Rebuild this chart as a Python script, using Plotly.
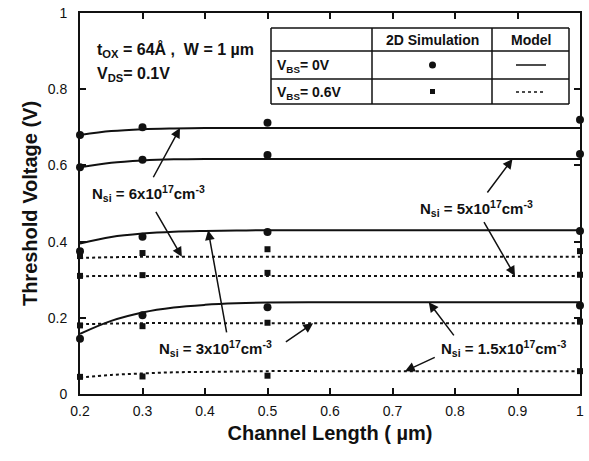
import plotly.graph_objects as go

# ---------------- data ----------------
x_sim = [0.2, 0.3, 0.5, 1.0]
sim_vbs0 = {
    "6e17": [0.680, 0.700, 0.712, 0.720],
    "5e17": [0.595, 0.615, 0.627, 0.630],
    "3e17": [0.375, 0.413, 0.425, 0.428],
    "1.5e17": [0.145, 0.207, 0.228, 0.232],
}
sim_vbs06 = {
    "6e17": [0.362, 0.370, 0.380, 0.375],
    "5e17": [0.310, 0.312, 0.318, 0.313],
    "3e17": [0.180, 0.178, 0.187, 0.190],
    "1.5e17": [0.045, 0.046, 0.048, 0.060],
}
x_model = [0.2, 0.25, 0.3, 0.35, 0.4, 0.45, 0.5, 0.6, 0.7, 0.8, 0.9, 1.0]
model_vbs0 = {
    "6e17": [0.680, 0.690, 0.695, 0.697, 0.698, 0.698, 0.698, 0.698, 0.698, 0.698, 0.698, 0.698],
    "5e17": [0.595, 0.607, 0.613, 0.616, 0.617, 0.617, 0.617, 0.617, 0.617, 0.617, 0.617, 0.617],
    "3e17": [0.395, 0.412, 0.421, 0.426, 0.428, 0.429, 0.430, 0.430, 0.430, 0.430, 0.430, 0.430],
    "1.5e17": [0.158, 0.192, 0.214, 0.227, 0.234, 0.238, 0.240, 0.241, 0.241, 0.241, 0.241, 0.241],
}
model_vbs06 = {
    "6e17": [0.357, 0.359, 0.360, 0.360, 0.360, 0.360, 0.360, 0.360, 0.360, 0.360, 0.360, 0.360],
    "5e17": [0.309, 0.310, 0.310, 0.310, 0.310, 0.310, 0.310, 0.310, 0.310, 0.310, 0.310, 0.310],
    "3e17": [0.183, 0.185, 0.186, 0.186, 0.186, 0.186, 0.186, 0.186, 0.186, 0.186, 0.186, 0.186],
    "1.5e17": [0.043, 0.050, 0.054, 0.057, 0.058, 0.059, 0.060, 0.060, 0.060, 0.060, 0.060, 0.060],
}
x_ticks = [0.2, 0.3, 0.4, 0.5, 0.6, 0.7, 0.8, 0.9, 1.0]
x_ticklabels = ["0.2", "0.3", "0.4", "0.5", "0.6", "0.7", "0.8", "0.9", "1"]
y_ticks = [0, 0.2, 0.4, 0.6, 0.8, 1.0]
y_ticklabels = ["0", "0.2", "0.4", "0.6", "0.8", "1"]

FONT = "Arial, Liberation Sans, Helvetica, sans-serif"
BLACK = "#111111"

fig = go.Figure()
for k in model_vbs0:
    fig.add_trace(go.Scatter(x=x_model, y=model_vbs0[k], mode="lines", line_shape="spline",
                             line=dict(color=BLACK, width=2), showlegend=False, hoverinfo="skip"))
    fig.add_trace(go.Scatter(x=x_model, y=model_vbs06[k], mode="lines", line_shape="spline",
                             line=dict(color=BLACK, width=2, dash="3px,3px"), showlegend=False,
                             hoverinfo="skip"))
for k in sim_vbs0:
    fig.add_trace(go.Scatter(x=x_sim, y=sim_vbs0[k], mode="markers", cliponaxis=False,
                             marker=dict(symbol="circle", size=8, color=BLACK), showlegend=False))
    fig.add_trace(go.Scatter(x=x_sim, y=sim_vbs06[k], mode="markers", cliponaxis=False,
                             marker=dict(symbol="square", size=6, color=BLACK), showlegend=False))

# ---------------- layout helpers ----------------
L, R, T, B = 80, 9, 13, 67
W, H = 589, 461
PW, PH = W - L - R, H - T - B


def px(xp):
    return (xp - L) / PW


def py(yp):
    return (H - B - yp) / PH


shapes = []
annotations = []

# legend table
tx0, tx1, tx2, tx3 = 271, 372, 492, 569
ty0, ty1, ty2, ty3 = 28, 51, 79, 104
for yy in (ty0, ty1, ty2, ty3):
    shapes.append(dict(type="line", xref="paper", yref="paper", x0=px(tx0), x1=px(tx3),
                       y0=py(yy), y1=py(yy), line=dict(color=BLACK, width=1.5)))
for xx in (tx0, tx1, tx2, tx3):
    shapes.append(dict(type="line", xref="paper", yref="paper", x0=px(xx), x1=px(xx),
                       y0=py(ty0), y1=py(ty3), line=dict(color=BLACK, width=1.5)))
# legend symbols
shapes.append(dict(type="circle", xref="paper", yref="paper", x0=px(429), x1=px(436),
                   y0=py(61.5), y1=py(68.5), fillcolor=BLACK, line=dict(color=BLACK, width=0)))
shapes.append(dict(type="rect", xref="paper", yref="paper", x0=px(430), x1=px(435),
                   y0=py(89), y1=py(94), fillcolor=BLACK, line=dict(color=BLACK, width=0)))
shapes.append(dict(type="line", xref="paper", yref="paper", x0=px(516), x1=px(546),
                   y0=py(65), y1=py(65), line=dict(color=BLACK, width=1.5)))
shapes.append(dict(type="line", xref="paper", yref="paper", x0=px(516), x1=px(546),
                   y0=py(92), y1=py(92), line=dict(color=BLACK, width=1.5, dash="3px,3px")))


def txt(x, y, s, size=14, xanchor="center"):
    annotations.append(dict(xref="paper", yref="paper", x=px(x), y=py(y), text=s,
                            showarrow=False, xanchor=xanchor, yanchor="middle",
                            font=dict(family=FONT, size=size, color=BLACK)))


txt(432, 40, "<b>2D Simulation</b>")
txt(531, 40, "<b>Model</b>")
txt(275, 66, "<b>V<sub>BS</sub>= 0V</b>", xanchor="left")
txt(275, 93, "<b>V<sub>BS</sub>= 0.6V</b>", xanchor="left")
txt(95, 50, "<b>t<sub>OX</sub> = 64Å ,  W = 1 µm</b>", size=16, xanchor="left")
txt(95, 74, "<b>V<sub>DS</sub>= 0.1V</b>", size=16, xanchor="left")


# N_si labels (data coordinates)
def dtxt(x, y, s):
    annotations.append(dict(x=x, y=y, text=s, showarrow=False, xanchor="center", yanchor="middle",
                            font=dict(family=FONT, size=15, color=BLACK)))


dtxt(0.309, 0.525, "<b>N<sub>si</sub> = 6x10<sup>17</sup>cm<sup>-3</sup></b>")
dtxt(0.835, 0.488, "<b>N<sub>si</sub> = 5x10<sup>17</sup>cm<sup>-3</sup></b>")
dtxt(0.416, 0.12, "<b>N<sub>si</sub> = 3x10<sup>17</sup>cm<sup>-3</sup></b>")
dtxt(0.877, 0.12, "<b>N<sub>si</sub> = 1.5x10<sup>17</sup>cm<sup>-3</sup></b>")


def arrow(tip, tail):
    annotations.append(dict(x=tip[0], y=tip[1], ax=tail[0], ay=tail[1], axref="x", ayref="y",
                            text="", showarrow=True, arrowhead=2, arrowsize=1.3, arrowwidth=1.5,
                            arrowcolor=BLACK))


arrow((0.36, 0.698), (0.316, 0.565))
arrow((0.363, 0.360), (0.320, 0.482))
arrow((0.892, 0.617), (0.850, 0.525))
arrow((0.896, 0.310), (0.845, 0.455))
arrow((0.405, 0.430), (0.435, 0.158))
arrow((0.573, 0.186), (0.527, 0.134))
arrow((0.758, 0.241), (0.80, 0.150))
arrow((0.72, 0.060), (0.77, 0.098))

fig.update_layout(
    width=W, height=H,
    margin=dict(l=L, r=R, t=T, b=B, autoexpand=False),
    paper_bgcolor="white", plot_bgcolor="white",
    font=dict(family=FONT, color=BLACK),
    shapes=shapes, annotations=annotations,
    showlegend=False,
)
fig.update_xaxes(range=[0.2, 1.0], tickvals=x_ticks, ticktext=x_ticklabels, automargin=False,
                 showline=True, linecolor=BLACK, linewidth=2, mirror="ticks",
                 ticks="inside", ticklen=6, tickwidth=1.5, tickcolor=BLACK, showgrid=False,
                 zeroline=False, tickfont=dict(family=FONT, size=14, color=BLACK),
                 ticklabelstandoff=3,
                 title=dict(text="<b>Channel Length ( µm)</b>", font=dict(family=FONT, size=20),
                            standoff=8))
fig.update_yaxes(range=[0, 1.0], tickvals=y_ticks, ticktext=y_ticklabels, automargin=False,
                 showline=True, linecolor=BLACK, linewidth=2, mirror="ticks",
                 ticks="inside", ticklen=6, tickwidth=1.5, tickcolor=BLACK, showgrid=False,
                 zeroline=False, tickfont=dict(family=FONT, size=14, color=BLACK),
                 ticklabelstandoff=8,
                 title=dict(text="<b>Threshold Voltage (V)</b>", font=dict(family=FONT, size=20),
                            standoff=5))
fig.update_xaxes(tickprefix="<b>", ticksuffix="</b>")
fig.update_yaxes(tickprefix="<b>", ticksuffix="</b>")

fig.write_html("out.html", config={"displayModeBar": False},
               post_script="document.body.style.margin='0';")
